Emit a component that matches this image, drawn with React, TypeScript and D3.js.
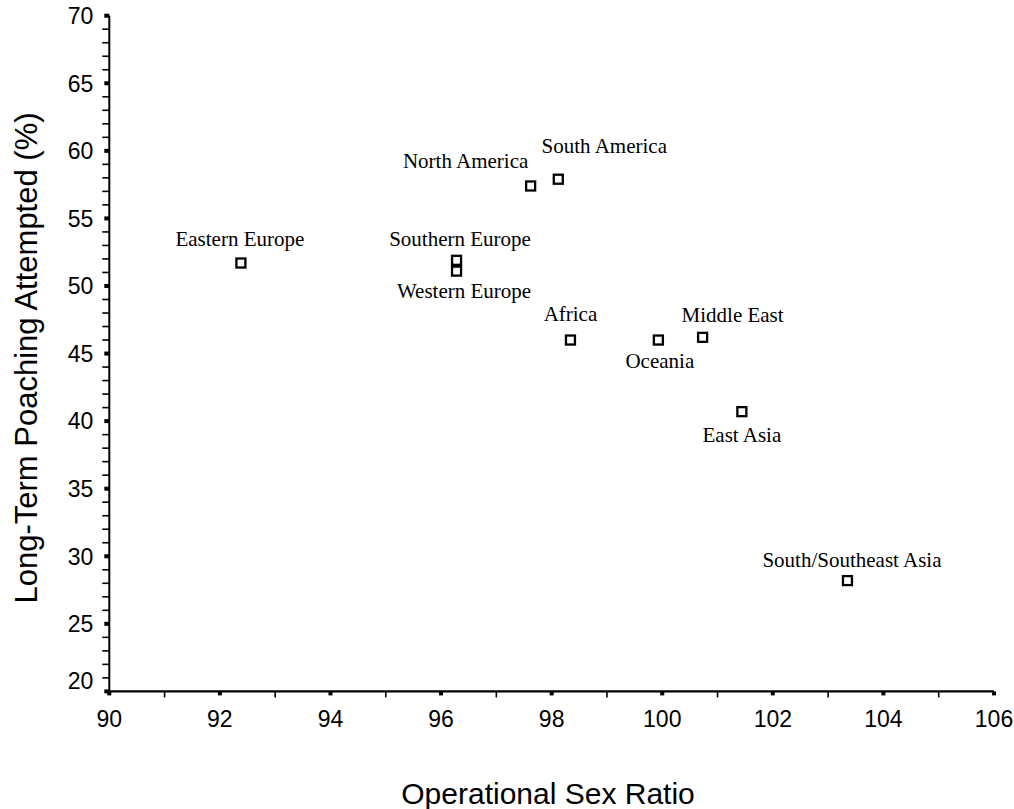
import React from "react";
import * as d3 from "d3";

const regions = [
  "Eastern Europe",
  "Southern Europe",
  "Western Europe",
  "North America",
  "South America",
  "Africa",
  "Oceania",
  "Middle East",
  "East Asia",
  "South/Southeast Asia",
];
const sexRatio = [92.38, 96.28, 96.28, 97.62, 98.12, 98.34, 99.93, 100.73, 101.44, 103.35];
const poaching = [51.7, 51.9, 51.1, 57.4, 57.9, 46.0, 46.0, 46.2, 40.7, 28.2];

const xTicks = [90, 92, 94, 96, 98, 100, 102, 104, 106];
const yTicks = [20, 25, 30, 35, 40, 45, 50, 55, 60, 65, 70];

// label placement offsets (pixels) relative to each marker
const labelOffsets: Record<string, [number, number]> = {
  "Eastern Europe": [-1, -17],
  "Southern Europe": [3.5, -14],
  "Western Europe": [7.5, 26.5],
  "North America": [-65, -17.5],
  "South America": [46, -26],
  Africa: [0, -19],
  Oceania: [1.5, 27.5],
  "Middle East": [30, -15.5],
  "East Asia": [0, 30],
  "South/Southeast Asia": [4.5, -14],
};

export default function App() {
  const W = 1014;
  const H = 809;
  const xs = d3.scaleLinear().domain([90, 106]).range([109.3, 994]);
  const ys = d3.scaleLinear().domain([20, 70]).range([691.4, 15.7]);
  const minorX = d3.range(91, 106, 2);
  const minorY = d3.range(20, 71, 1).filter((v) => v % 5 !== 0);
  const sans = "Liberation Sans, Arial, sans-serif";
  const serif = "Liberation Serif, Times New Roman, serif";
  return (
    <svg
      width={W}
      height={H}
      style={{ position: "absolute", left: 0, top: 0, background: "#fff" }}
    >
      <rect x={0} y={0} width={W} height={H} fill="#fff" />
      {/* axes lines */}
      <line x1={xs(90)} x2={xs(90)} y1={ys(70)} y2={ys(20)} stroke="#000" strokeWidth={2} />
      <line x1={xs(90) - 1} x2={xs(106)} y1={ys(20)} y2={ys(20)} stroke="#000" strokeWidth={2.2} />
      {/* y minor ticks */}
      {minorY.map((v) => (
        <line key={"my" + v} x1={xs(90) - 7} x2={xs(90)} y1={ys(v)} y2={ys(v)} stroke="#000" strokeWidth={1.6} />
      ))}
      {/* y major ticks */}
      {yTicks.map((v) => (
        <rect key={"My" + v} x={xs(90) - 5} y={ys(v) - 2} width={5} height={4} fill="#000" />
      ))}
      {/* x minor ticks */}
      {minorX.map((v) => (
        <line key={"mx" + v} x1={xs(v)} x2={xs(v)} y1={ys(20)} y2={ys(20) + 6} stroke="#000" strokeWidth={1.6} />
      ))}
      {/* x major ticks */}
      {xTicks.map((v) => (
        <rect key={"Mx" + v} x={xs(v) - 2} y={ys(20)} width={4} height={4} fill="#000" />
      ))}
      {/* y tick labels */}
      {yTicks.map((v) => (
        <text
          key={"ly" + v}
          x={xs(90) - 16}
          y={ys(v) - (v === 20 ? 11 : 0)}
          dy="0.36em"
          textAnchor="end"
          fontFamily={sans}
          fontSize={23}
          fill="#000"
        >
          {v}
        </text>
      ))}
      {/* x tick labels */}
      {xTicks.map((v) => (
        <text
          key={"lx" + v}
          x={xs(v)}
          y={ys(20) + 36}
          textAnchor="middle"
          fontFamily={sans}
          fontSize={23}
          fill="#000"
        >
          {v}
        </text>
      ))}
      {/* axis titles */}
      <text
        transform={`translate(37,358) rotate(-90)`}
        textAnchor="middle"
        fontFamily={sans}
        fontSize={31}
        fill="#000"
      >
        Long-Term Poaching Attempted (%)
      </text>
      <text x={548} y={804} textAnchor="middle" fontFamily={sans} fontSize={30} fill="#000">
        Operational Sex Ratio
      </text>
      {/* markers */}
      {regions.map((r, i) => (
        <rect
          key={"p" + r}
          x={xs(sexRatio[i]) - 4.5}
          y={ys(poaching[i]) - 4.5}
          width={9}
          height={9}
          fill="none"
          stroke="#000"
          strokeWidth={2.3}
        />
      ))}
      {/* labels */}
      {regions.map((r, i) => {
        const [dx, dy] = labelOffsets[r];
        return (
          <text
            key={"t" + r}
            x={xs(sexRatio[i]) + dx}
            y={ys(poaching[i]) + dy}
            textAnchor="middle"
            fontFamily={serif}
            fontSize={21}
            fill="#000"
          >
            {r}
          </text>
        );
      })}
    </svg>
  );
}
